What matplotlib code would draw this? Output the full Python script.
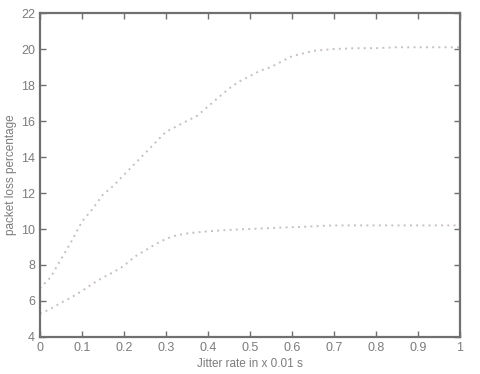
import numpy as np
import matplotlib
matplotlib.use("Agg")
import matplotlib.pyplot as plt

plt.rcParams['font.family'] = ['Liberation Sans', 'DejaVu Sans']

# jitter rate (x 0.01 s)
jitter = [0, 0.025, 0.05, 0.075, 0.1, 0.125, 0.15, 0.175, 0.2, 0.225, 0.25, 0.275,
          0.3, 0.325, 0.35, 0.375, 0.4, 0.425, 0.45, 0.475, 0.5, 0.525, 0.55, 0.575,
          0.6, 0.625, 0.65, 0.675, 0.7, 0.75, 0.8, 0.85, 0.9, 0.95, 1.0]
loss_high = [6.7, 7.3, 8.3, 9.3, 10.4, 11.1, 11.9, 12.4, 13.0, 13.6, 14.2, 14.8,
             15.4, 15.7, 16.0, 16.3, 16.8, 17.3, 17.8, 18.2, 18.5, 18.8, 19.0, 19.3,
             19.6, 19.75, 19.9, 19.95, 20.0, 20.05, 20.05, 20.1, 20.1, 20.1, 20.1]
loss_low = [5.3, 5.55, 5.9, 6.2, 6.55, 6.95, 7.3, 7.6, 7.95, 8.45, 8.8, 9.15,
            9.45, 9.65, 9.75, 9.82, 9.87, 9.91, 9.95, 9.98, 10.0, 10.03, 10.05, 10.08,
            10.1, 10.12, 10.15, 10.18, 10.2, 10.2, 10.2, 10.2, 10.2, 10.2, 10.2]

xticks = [0, 0.1, 0.2, 0.3, 0.4, 0.5, 0.6, 0.7, 0.8, 0.9, 1]
xticklabels = ['0', '0.1', '0.2', '0.3', '0.4', '0.5', '0.6', '0.7', '0.8', '0.9', '1']
yticks = [4, 6, 8, 10, 12, 14, 16, 18, 20, 22]

grey = '#707070'
txt = '#7c7c7c'

fig = plt.figure(figsize=(4.8, 3.74), dpi=100)
ax = fig.add_axes([0.083, 0.099, 0.875, 0.866])
# sparse light dots like the scanned original
ax.plot(jitter, loss_high, linestyle=(0, (1, 2.2)), color='#c8c0c0', linewidth=1.4)
ax.plot(jitter, loss_low, linestyle=(0, (1, 2.2)), color='#c8c0c0', linewidth=1.4)

ax.set_xlim(0, 1)
ax.set_ylim(4, 22)
ax.set_xticks(xticks)
ax.set_xticklabels(xticklabels)
ax.set_yticks(yticks)
for s in ax.spines.values():
    s.set_color(grey)
    s.set_linewidth(1.6)
ax.tick_params(direction='in', length=4, width=1, color=grey, labelcolor=txt,
               labelsize=9, top=True, right=True)
ax.set_xlabel('Jitter rate in x 0.01 s', color=txt, fontsize=8.5, labelpad=3)
ax.set_ylabel('packet loss percentage', color=txt, fontsize=8.5, labelpad=3)

fig.savefig('out.png', dpi=100)
